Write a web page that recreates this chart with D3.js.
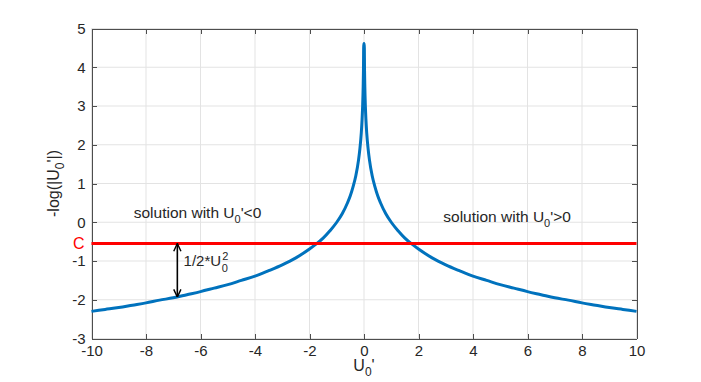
<!DOCTYPE html>
<meta charset="utf-8">
<style>
body { margin: 0; background: #fff; }
text { font-family: "Liberation Sans", Arial, sans-serif; fill: #262626; }
.grid line { stroke: #e3e3e3; stroke-width: 1; }
.axis path, .axis line { fill: none; stroke: #4d4d4d; stroke-width: 1; shape-rendering: crispEdges; }
</style>
<body>
<script src="https://d3js.org/d3.v7.min.js"></script>
<script>

var width = 701;
var height = 382;
var margin = {top: 28.5, right: 64.5, bottom: 43.5, left: 91.5};

// axis setup
var xDomain = [-10, 10];
var yDomain = [-3, 5];
var xTicks = [-10, -8, -6, -4, -2, 0, 2, 4, 6, 8, 10];
var yTicks = [-3, -2, -1, 0, 1, 2, 3, 4, 5];

// blue curve -log(|U0'|)
var uVals = [-10, -9.5, -9, -8.5, -8, -7.5, -7, -6.5, -6, -5.5, -5, -4.5, -4, -3.5, -3, -2.5, -2, -1.75, -1.5, -1.25, -1,
  -0.8, -0.6, -0.5, -0.4, -0.3, -0.2, -0.15, -0.1, -0.07, -0.05, -0.03, -0.02, -0.01,
  0.01, 0.02, 0.03, 0.05, 0.07, 0.1, 0.15, 0.2, 0.3, 0.4, 0.5, 0.6, 0.8,
  1, 1.25, 1.5, 1.75, 2, 2.5, 3, 3.5, 4, 4.5, 5, 5.5, 6, 6.5, 7, 7.5, 8, 8.5, 9, 9.5, 10];
var yVals = [-2.30, -2.25, -2.20, -2.14, -2.08, -2.01, -1.95, -1.87, -1.79, -1.70, -1.61, -1.50, -1.39, -1.25, -1.10, -0.92, -0.69, -0.56, -0.41, -0.22, 0,
  0.22, 0.51, 0.69, 0.92, 1.20, 1.61, 1.90, 2.30, 2.66, 3.00, 3.51, 3.91, 4.61,
  4.61, 3.91, 3.51, 3.00, 2.66, 2.30, 1.90, 1.61, 1.20, 0.92, 0.69, 0.51, 0.22,
  0, -0.22, -0.41, -0.56, -0.69, -0.92, -1.10, -1.25, -1.39, -1.50, -1.61, -1.70, -1.79, -1.87, -1.95, -2.01, -2.08, -2.14, -2.20, -2.25, -2.30];

// red level C
var cLevel = -0.55;
var cSpan = [-10, 10];

// arrow between C and curve
var arrowX = -6.85;
var arrowFrom = -0.55;
var arrowTo = -1.93;

var annotations = [
  {x: -8.45, y: 0.10, main: 'solution with U', sub: '0', tail: "'<0"},
  {x: 2.91, y: 0.0, main: 'solution with U', sub: '0', tail: "'>0"}
];

var svg = d3.select('body')
  .append('svg')
  .attr('width', width)
  .attr('height', height);

var w = width - margin.left - margin.right;
var h = height - margin.top - margin.bottom;

var x = d3.scaleLinear().domain(xDomain).range([0, w]);
var y = d3.scaleLinear().domain(yDomain).range([h, 0]);

var g = svg.append('g')
  .attr('transform', 'translate(' + margin.left + ',' + margin.top + ')');

var defs = svg.append('defs');
defs.append('marker')
  .attr('id', 'head')
  .attr('viewBox', '0 0 10 10')
  .attr('refX', 9.5)
  .attr('refY', 5)
  .attr('markerWidth', 9)
  .attr('markerHeight', 9)
  .attr('markerUnits', 'userSpaceOnUse')
  .attr('orient', 'auto-start-reverse')
  .append('path')
  .attr('d', 'M1,1 L9.5,5 L1,9')
  .attr('fill', 'none')
  .attr('stroke', '#000')
  .attr('stroke-width', 1.6);

// grid
g.append('g').attr('class', 'grid')
  .selectAll('line.vx').data(xTicks).enter().append('line')
  .attr('x1', d => x(d)).attr('x2', d => x(d))
  .attr('y1', 0).attr('y2', h);
g.append('g').attr('class', 'grid')
  .selectAll('line.hy').data(yTicks).enter().append('line')
  .attr('y1', d => y(d)).attr('y2', d => y(d))
  .attr('x1', 0).attr('x2', w);

// axes on all four sides, ticks pointing in
var fmt = d => d3.format('')(d).replace('\u2212', '-');
g.append('g').attr('class', 'axis')
  .attr('transform', 'translate(0,' + h + ')')
  .call(d3.axisBottom(x).tickValues(xTicks).tickSizeInner(-5).tickSizeOuter(0).tickPadding(6.5).tickFormat(fmt));
g.append('g').attr('class', 'axis')
  .call(d3.axisTop(x).tickValues(xTicks).tickSizeInner(-5).tickSizeOuter(0).tickFormat(''));
g.append('g').attr('class', 'axis')
  .call(d3.axisLeft(y).tickValues(yTicks).tickSizeInner(-5).tickSizeOuter(0).tickPadding(6).tickFormat(fmt));
g.append('g').attr('class', 'axis')
  .attr('transform', 'translate(' + w + ',0)')
  .call(d3.axisRight(y).tickValues(yTicks).tickSizeInner(-5).tickSizeOuter(0).tickFormat(''));

g.selectAll('.axis text')
  .attr('fill', '#262626')
  .style('font-size', '15px');

// blue curve
var pts = uVals.map((u, i) => [u, yVals[i]]);
var line = d3.line()
  .x(d => x(d[0]))
  .y(d => y(d[1]))
  .curve(d3.curveMonotoneX);

g.append('path')
  .datum(pts)
  .attr('fill', 'none')
  .attr('stroke', '#0072bd')
  .attr('stroke-width', 3)
  .attr('stroke-linejoin', 'round')
  .attr('d', line);

// red line C
g.append('line')
  .attr('x1', x(cSpan[0])).attr('x2', x(cSpan[1]))
  .attr('y1', y(cLevel)).attr('y2', y(cLevel))
  .attr('stroke', '#ff0000')
  .attr('stroke-width', 3);

g.append('text')
  .attr('x', -7)
  .attr('y', y(cLevel))
  .attr('dy', '0.35em')
  .attr('text-anchor', 'end')
  .style('font-size', '16px')
  .style('fill', '#ff0000')
  .text('C');

// double arrow
g.append('line')
  .attr('x1', x(arrowX)).attr('x2', x(arrowX))
  .attr('y1', y(arrowFrom)).attr('y2', y(arrowTo))
  .attr('stroke', '#000')
  .attr('stroke-width', 1.6)
  .attr('marker-start', 'url(#head)')
  .attr('marker-end', 'url(#head)');

var half = g.append('text')
  .attr('x', x(-6.62))
  .attr('y', y(-1.12))
  .style('font-size', '15px');
half.append('tspan').text('1/2*U');
half.append('tspan').attr('dy', '-6').attr('dx', '1').style('font-size', '11px').text('2');
half.append('tspan').attr('dy', '12').attr('dx', '-6.5').style('font-size', '11px').text('0');

// text annotations
annotations.forEach(a => {
  var t = g.append('text')
    .attr('x', x(a.x))
    .attr('y', y(a.y))
    .style('font-size', '15.5px');
  t.append('tspan').text(a.main);
  t.append('tspan').attr('dy', '5').style('font-size', '11px').text(a.sub);
  t.append('tspan').attr('dy', '-5').text(a.tail);
});

// axis labels
var xl = g.append('text')
  .attr('x', w / 2)
  .attr('y', h + 32)
  .attr('text-anchor', 'middle')
  .style('font-size', '16px');
xl.append('tspan').text('U');
xl.append('tspan').attr('dy', '5').style('font-size', '12px').text('0');
xl.append('tspan').attr('dy', '-5').text("'");

var yl = g.append('text')
  .attr('transform', 'translate(' + (-33) + ',' + (h / 2) + ') rotate(-90)')
  .attr('text-anchor', 'middle')
  .style('font-size', '16px');
yl.append('tspan').text('-log(|U');
yl.append('tspan').attr('dy', '5').style('font-size', '12px').text('0');
yl.append('tspan').attr('dy', '-5').text("'|)");

</script>
</body>
</html>
